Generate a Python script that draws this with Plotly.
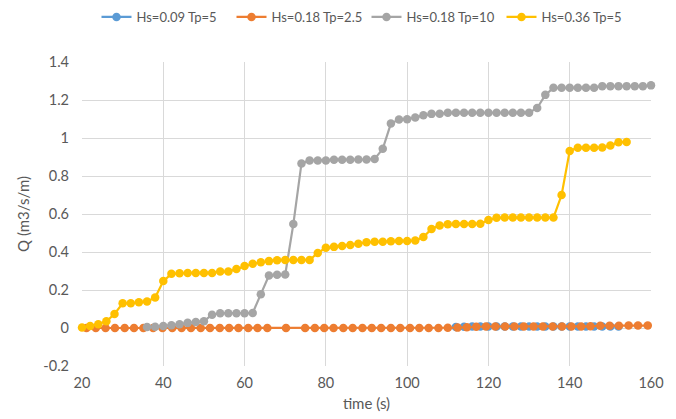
import plotly.graph_objects as go

# ---- data ----
blue_name = "Hs=0.09 Tp=5"
blue_x = [112, 114, 116, 118, 120, 122, 124, 126, 128, 130, 132, 134, 136, 138, 140, 142, 144, 146, 148, 150, 152]
blue_y = [0.005, 0.007, 0.008, 0.008, 0.008, 0.008, 0.008, 0.008, 0.008, 0.008, 0.008, 0.008, 0.008, 0.008, 0.008, 0.008, 0.008, 0.008, 0.008, 0.008, 0.008]

orange_name = "Hs=0.18 Tp=2.5"
orange_x = [21.1, 23.4, 25.8, 28.1, 30.5, 32.8, 35.1, 37.5, 39.8, 42.2, 44.5, 46.8, 49.2, 51.5, 53.9,
            56.2, 58.5, 60.9, 63.2, 65.6, 70.2, 74.9, 77.3, 79.6, 81.9, 84.3, 86.6, 89.0, 91.3, 93.6,
            96.0, 98.3, 100.7, 103.0, 105.3, 107.7, 110.0, 112.4, 114.7, 117.0, 119.4, 121.7, 124.1,
            126.4, 128.7, 131.1, 133.4, 135.8, 138.1, 140.4, 142.8, 145.1, 147.5, 149.8, 152.1, 154.5,
            156.8, 159.2]
orange_y = [0, 0, 0, 0, 0, 0, 0, 0, 0, 0, 0, 0, 0, 0, 0,
            0, 0, 0, 0, 0, 0, 0, 0, 0, 0, 0, 0, 0, 0, 0,
            0, 0, 0, 0, 0, 0, 0.001, 0.002, 0.004, 0.007, 0.008, 0.008, 0.008,
            0.008, 0.008, 0.008, 0.008, 0.008, 0.008, 0.008, 0.008, 0.009, 0.012, 0.012, 0.012, 0.013,
            0.013, 0.013]

gray_name = "Hs=0.18 Tp=10"
gray_x = [36, 38, 40, 42, 44, 46, 48, 50, 52, 54, 56, 58, 60, 62, 64, 66, 68, 70, 72, 74, 76, 78, 80,
          82, 84, 86, 88, 90, 92, 94, 96, 98, 100, 102, 104, 106, 108, 110, 112, 114, 116, 118, 120,
          122, 124, 126, 128, 130, 132, 134, 136, 138, 140, 142, 144, 146, 148, 150, 152, 154, 156, 158, 160]
gray_y = [0.005, 0.006, 0.011, 0.014, 0.02, 0.027, 0.032, 0.036, 0.07, 0.078, 0.078, 0.078, 0.078, 0.079,
          0.178, 0.276, 0.28, 0.281, 0.547, 0.866, 0.882, 0.882, 0.882,
          0.885, 0.886, 0.886, 0.887, 0.887, 0.89, 0.943, 1.076, 1.097, 1.099, 1.108, 1.12, 1.127, 1.128,
          1.133, 1.133, 1.133, 1.133, 1.133, 1.133, 1.133, 1.133, 1.133, 1.133, 1.133, 1.158, 1.227,
          1.264, 1.265, 1.265, 1.265, 1.265, 1.265, 1.273, 1.273, 1.273, 1.273, 1.273, 1.273, 1.277]

yellow_name = "Hs=0.36 Tp=5"
yellow_x = [20, 22, 24, 26, 28, 30, 32, 34, 36, 38, 40, 42, 44, 46, 48, 50, 52, 54, 56, 58, 60, 62, 64,
            66, 68, 70, 72, 74, 76, 78, 80, 82, 84, 86, 88, 90, 92, 94, 96, 98, 100, 102, 104, 106,
            108, 110, 112, 114, 116, 118, 120, 122, 124, 126, 128, 130, 132, 134, 136, 138, 140, 142,
            144, 146, 148, 150, 152, 154]
yellow_y = [0.003, 0.011, 0.02, 0.035, 0.074, 0.13, 0.13, 0.136, 0.14, 0.16, 0.247, 0.285, 0.288, 0.29,
            0.29, 0.29, 0.29, 0.297, 0.297, 0.31, 0.326, 0.338, 0.346, 0.352, 0.357, 0.358, 0.358,
            0.358, 0.358, 0.395, 0.422, 0.427, 0.432, 0.437, 0.444, 0.451, 0.454, 0.454, 0.457, 0.458,
            0.458, 0.46, 0.479, 0.521, 0.54, 0.546, 0.547, 0.547, 0.547, 0.549, 0.568, 0.58, 0.581,
            0.581, 0.581, 0.581, 0.581, 0.581, 0.581, 0.70, 0.932, 0.949, 0.949, 0.949, 0.95, 0.96,
            0.978, 0.979]

y_tickvals = [-0.2, 0, 0.2, 0.4, 0.6, 0.8, 1, 1.2, 1.4]
y_ticktext = ["-0.2", "0", "0.2", "0.4", "0.6", "0.8", "1", "1.2", "1.4"]
x_tickvals = [20, 40, 60, 80, 100, 120, 140, 160]

x_title = "time (s)"
y_title = "Q (m3/s/m)"

# ---- figure ----
series = [
    (blue_name, blue_x, blue_y, "#5B9BD5"),
    (orange_name, orange_x, orange_y, "#ED7D31"),
    (gray_name, gray_x, gray_y, "#A5A5A5"),
    (yellow_name, yellow_x, yellow_y, "#FFC000"),
]

fig = go.Figure()
for name, xs, ys, col in series:
    fig.add_trace(go.Scatter(
        x=xs, y=ys, name=name, mode="lines+markers",
        line=dict(color=col, width=2.2),
        marker=dict(color=col, size=8.5),
        cliponaxis=False,
    ))

FONT = "Lato, Open Sans, sans-serif"
TXT = "#595959"
GRID = "#D9D9D9"
FS = 15

fig.update_layout(
    width=676, height=419,
    margin=dict(l=82, r=25, t=62, b=53),
    paper_bgcolor="white", plot_bgcolor="white",
    font=dict(family=FONT, size=FS, color=TXT),
    showlegend=True,
    legend=dict(orientation="h", x=0.5, xanchor="center", y=1 - 17 / 419, yanchor="middle",
                yref="container", font=dict(size=13, color=TXT),
                itemwidth=30, tracegroupgap=0, entrywidth=90),
)
fig.update_xaxes(
    range=[20, 160], tickvals=x_tickvals, showgrid=True, gridcolor=GRID, gridwidth=1,
    zeroline=False, showline=False, ticks="", tickfont=dict(size=14.5, color=TXT),
    ticklabelstandoff=6, automargin=False,
    title=dict(text=x_title, font=dict(size=FS, color=TXT), standoff=8),
)
fig.update_yaxes(
    range=[-0.2, 1.4], tickvals=y_tickvals, ticktext=y_ticktext, showgrid=True,
    gridcolor=GRID, gridwidth=1, zeroline=False, showline=False, ticks="",
    tickfont=dict(size=14.5, color=TXT), ticklabelstandoff=12, automargin=False,
    title=dict(text=y_title, font=dict(size=FS, color=TXT), standoff=10),
)

fig.write_html("out.html", config={"displayModeBar": False},
               post_script="document.body.style.margin='0';")
